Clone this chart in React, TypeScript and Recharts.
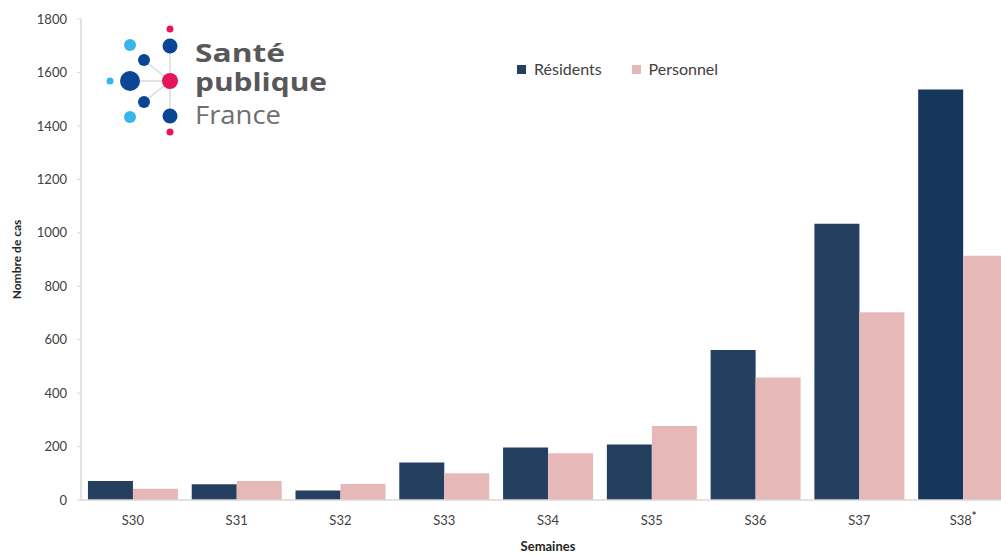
import React from 'react';
import { BarChart, Bar, XAxis, YAxis, Cell, Customized } from 'recharts';

const weeks = ['S30', 'S31', 'S32', 'S33', 'S34', 'S35', 'S36', 'S37', 'S38*'];
const residents = [71, 59, 36, 140, 196, 208, 561, 1034, 1536];
const personnel = [42, 71, 60, 100, 175, 277, 458, 703, 914];
const yTicks = [0, 200, 400, 600, 800, 1000, 1200, 1400, 1600, 1800];

const data = weeks.map((w, i) => ({ week: w, residents: residents[i], personnel: personnel[i] }));

const FONT = 'Lato, "Open Sans", sans-serif';
const NAVY = '#243F60';
const NAVY_LAST = '#17365D';
const PINK = '#E6B9B8';

const XTick = (props: any) => {
  const { x, y, payload } = props;
  const v: string = payload.value;
  const star = v.endsWith('*');
  const base = star ? v.slice(0, -1) : v;
  return (
    <text x={x} y={y} dy={5} textAnchor="middle" fill="#404040" fontSize={13} fontFamily={FONT}>
      {base}
      {star ? <tspan fontSize={11} fontWeight={700} dy={-5}>*</tspan> : null}
    </text>
  );
};

const Logo = () => {
  const lc = '#d9d9d9';
  return (
    <g>
      <line x1={170} y1={46} x2={170} y2={116} stroke={lc} strokeWidth={1.5} />
      <line x1={130} y1={81} x2={170} y2={81} stroke={lc} strokeWidth={1.5} />
      <line x1={144} y1={60} x2={170} y2={81} stroke={lc} strokeWidth={1.5} />
      <line x1={144} y1={102} x2={170} y2={81} stroke={lc} strokeWidth={1.5} />
      <circle cx={170} cy={29} r={3.5} fill="#E4165B" />
      <circle cx={170} cy={46} r={7.5} fill="#0B4596" />
      <circle cx={130} cy={45} r={6} fill="#35B6E8" />
      <circle cx={144} cy={60} r={6} fill="#0B4596" />
      <circle cx={110} cy={81} r={3.5} fill="#35B6E8" />
      <circle cx={130} cy={81} r={10} fill="#0B4596" />
      <circle cx={170} cy={81} r={8} fill="#E4165B" />
      <circle cx={144} cy={102} r={6} fill="#0B4596" />
      <circle cx={130} cy={117} r={6} fill="#35B6E8" />
      <circle cx={170} cy={116} r={7.5} fill="#0B4596" />
      <circle cx={170} cy={132} r={3.5} fill="#E4165B" />
      <text fontFamily='"Open Sans", sans-serif'>
        <tspan x={195} y={62} fontSize={25} fontWeight={700} fill="#58585A" textLength={90} lengthAdjust="spacingAndGlyphs">Santé</tspan>
        <tspan x={195} y={91} fontSize={25} fontWeight={700} fill="#58585A" textLength={132} lengthAdjust="spacingAndGlyphs">publique</tspan>
        <tspan x={195} y={124} fontSize={26} fontWeight={400} fill="#6F6F6F" textLength={86} lengthAdjust="spacingAndGlyphs">France</tspan>
      </text>
    </g>
  );
};

const LegendBox = () => (
  <div style={{ position: 'absolute', left: 517, top: 58, display: 'flex', alignItems: 'center', fontFamily: FONT, fontSize: 16, color: '#404040', lineHeight: '22px' }}>
    <span style={{ display: 'inline-block', width: 9, height: 9, background: NAVY, marginRight: 8 }} />
    <span style={{ marginRight: 30 }}>Résidents</span>
    <span style={{ display: 'inline-block', width: 9, height: 9, background: PINK, marginRight: 8 }} />
    <span>Personnel</span>
  </div>
);

export default function App() {
  return (
    <div style={{ position: 'absolute', left: 0, top: 0, width: 1001, height: 554, overflow: 'hidden', background: '#fff' }}>
      <BarChart
        width={1030}
        height={554}
        data={data}
        margin={{ top: 19, right: 15, bottom: 0, left: 0 }}
        barCategoryGap="6.7%"
        barGap={0}
      >
        <XAxis
          dataKey="week"
          height={54}
          tickLine={false}
          tickSize={0}
          tickMargin={20}
          axisLine={{ stroke: '#d9d9d9', strokeWidth: 1.5 }}
          tick={<XTick />}
          interval={0}
          label={{ value: 'Semaines', position: 'insideBottom', offset: 3, style: { fontFamily: FONT, fontSize: 13, fontWeight: 700, fill: '#262626' } }}
        />
        <YAxis
          width={81}
          domain={[0, 1800]}
          ticks={yTicks}
          interval={0}
          tickSize={4}
          tickMargin={10}
          tickLine={{ stroke: '#d9d9d9' }}
          axisLine={{ stroke: '#d9d9d9', strokeWidth: 1.5 }}
          tick={{ fontFamily: FONT, fontSize: 13, fill: '#404040' }}
          label={{ value: 'Nombre de cas', angle: -90, position: 'insideLeft', offset: 17, style: { textAnchor: 'middle', fontFamily: FONT, fontSize: 12, fontWeight: 700, fill: '#262626' } }}
        />
        <Bar dataKey="residents" name="Résidents" fill={NAVY} isAnimationActive={false}>
          {data.map((d, i) => (
            <Cell key={d.week} fill={i === data.length - 1 ? NAVY_LAST : NAVY} />
          ))}
        </Bar>
        <Bar dataKey="personnel" name="Personnel" fill={PINK} isAnimationActive={false} />
        <Customized component={Logo} />
      </BarChart>
      <LegendBox />
    </div>
  );
}
